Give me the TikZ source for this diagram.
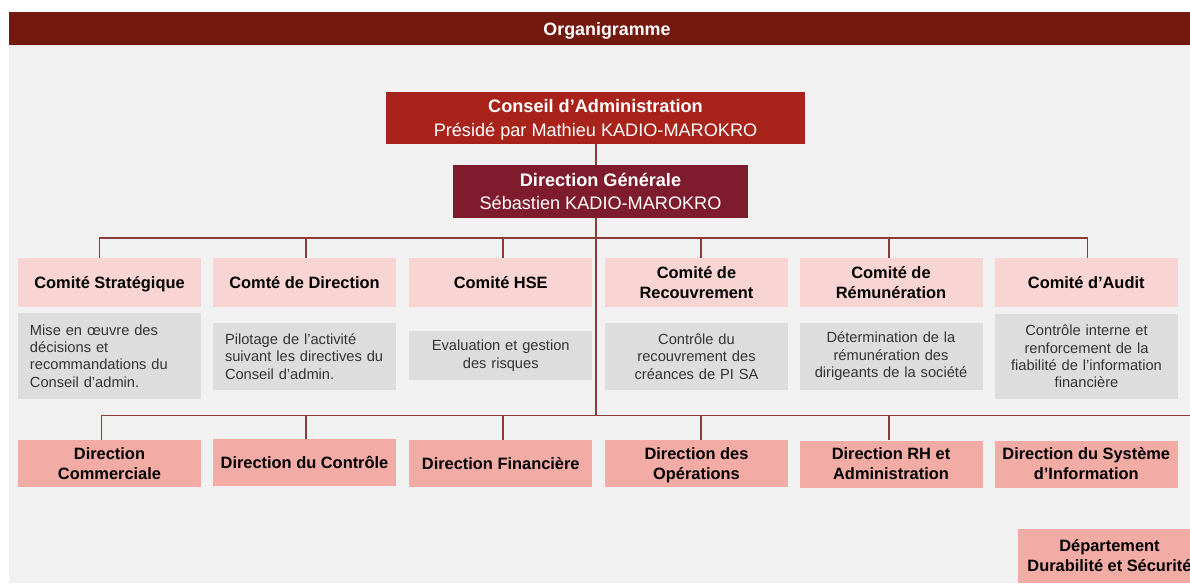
\documentclass[tikz,border=0pt]{standalone}
\usepackage{fontspec}
\setmainfont{Liberation Sans}
\definecolor{titlered}{HTML}{731910}
\definecolor{bggray}{HTML}{F1F1F1}
\definecolor{caRed}{HTML}{A8231A}
\definecolor{dgRed}{HTML}{7E1B2D}
\definecolor{hdrPink}{HTML}{F8D5D2}
\definecolor{descGray}{HTML}{DDDDDD}
\definecolor{dirSalmon}{HTML}{F3ACA5}
\definecolor{lineRed}{HTML}{8B3B3B}
\definecolor{descText}{HTML}{333333}
\tikzset{
  topbox/.style={fill=#1, text=white, inner sep=0pt, align=center,
    font=\fontsize{13.6pt}{17.25pt}\selectfont},
  hdrbox/.style={fill=hdrPink, text=black, inner sep=0pt, align=center,
    minimum width=137.25pt, minimum height=36.75pt,
    font=\fontsize{12.3pt}{15pt}\selectfont\bfseries},
  descbox/.style={fill=descGray, text=descText, inner xsep=9pt, inner ysep=0pt,
    text width=119.25pt, font=\fontsize{11pt}{13.1pt}\selectfont},
  dirbox/.style={fill=dirSalmon, text=black, inner sep=0pt, align=center,
    minimum width=137.25pt, minimum height=35.25pt,
    font=\fontsize{12.3pt}{15pt}\selectfont\bfseries},
  conn/.style={draw=lineRed, line width=1pt}
}
\newcommand{\lowr}[2][-1.6pt]{\raisebox{#1}[\height][\depth]{#2}}
\begin{document}
\begin{tikzpicture}[x=0.75pt,y=-0.75pt]
\useasboundingbox (0,0) rectangle (1190,583);
\clip (0,0) rectangle (1190,583);
\fill[white] (0,0) rectangle (1190,583);
\fill[bggray] (9,45) rectangle (1190,583);
\fill[titlered] (9,12) rectangle (1190,45);
\node[text=white, font=\fontsize{13.4pt}{15pt}\selectfont\bfseries] (title) at (607,30.5) {Organigramme};

% top boxes
\node[topbox=caRed, minimum width=314.25pt, minimum height=39pt] (ca) at (595.5,118)
  {\lowr[-1.5pt]{\begin{tabular}{@{}c@{}}\textbf{Conseil d’Administration}\\[0.9pt]Présidé par Mathieu KADIO-MAROKRO\end{tabular}}};
\node[topbox=dgRed, minimum width=221.25pt, minimum height=39.75pt] (dg) at (600.5,191.5)
  {\textbf{Direction Générale}\\Sébastien KADIO-MAROKRO};

% committee headers
\node[hdrbox] (cs) at (109.5,282.5) {\lowr{Comité Stratégique}};
\node[hdrbox] (cd) at (304.5,282.5) {Comté de Direction};
\node[hdrbox] (ch) at (500.75,282.5) {Comité HSE};
\node[hdrbox] (cr) at (696.5,282.5) {Comité de\\Recouvrement};
\node[hdrbox] (crem) at (891,282.5) {Comité de\\Rémunération};
\node[hdrbox] (caud) at (1086.25,282.5) {Comité d’Audit};

% descriptions
\node[descbox, align=left, minimum height=64.5pt] (d1) at (109.5,356)
  {Mise en œuvre des\\décisions et\\recommandations du\\Conseil d’admin.};
\node[descbox, align=left, minimum height=50.25pt] (d2) at (304.5,356.5)
  {Pilotage de l’activité\\suivant les directives du\\Conseil d’admin.};
\node[descbox, align=center, minimum height=36.75pt] (d3) at (500.75,355.5)
  {Evaluation et gestion\\des risques};
\node[descbox, align=center, minimum height=50.25pt] (d4) at (696.5,356.5)
  {Contrôle du\\recouvrement des\\créances de PI SA};
\node[descbox, align=center, minimum height=50.25pt] (d5) at (891,356.5)
  {Détermination de la\\rémunération des\\dirigeants de la société};
\node[descbox, align=center, minimum height=63.75pt] (d6) at (1086.5,356.5)
  {Contrôle interne et\\renforcement de la\\fiabilité de l’information\\financière};

% directions
\node[dirbox] (dcom) at (109.5,463.5) {Direction\\Commerciale};
\node[dirbox] (dctl) at (304.5,462.5) {Direction du Contrôle};
\node[dirbox] (dfin) at (500.75,463.5) {Direction Financière};
\node[dirbox] (dop) at (696.5,463.5) {\lowr{\begin{tabular}{@{}c@{}}Direction des\\Opérations\end{tabular}}};
\node[dirbox] (drh) at (891,464) {Direction RH et\\Administration};
\node[dirbox] (dsi) at (1086.25,464) {Direction du Système\\d’Information};
\node[dirbox, minimum height=40pt] (dep) at (1109.5,556) {Département\\Durabilité et Sécurité};

% connectors
\coordinate (cbar) at (596,238);
\coordinate (dbar) at (596,415.7);
\coordinate (dend) at (1195,415.7);
\draw[conn] (ca.south -| cbar) -- (dg.north -| cbar);
\draw[conn] (dg.south -| cbar) -- (dbar);
\draw[conn] ([xshift=-7.5pt]cs.north) -- ([xshift=-7.5pt]cs.north |- cbar) -- ([xshift=1pt]caud.north |- cbar) -- ([xshift=1pt]caud.north);
\draw[conn] ([xshift=1.1pt]cd.north) -- ([xshift=1.1pt]cd.north |- cbar);
\draw[conn] ([xshift=1.7pt]ch.north) -- ([xshift=1.7pt]ch.north |- cbar);
\draw[conn] ([xshift=3.4pt]cr.north) -- ([xshift=3.4pt]cr.north |- cbar);
\draw[conn] ([xshift=-1.5pt]crem.north) -- ([xshift=-1.5pt]crem.north |- cbar);
\draw[conn] ([xshift=-6pt]dcom.north) -- ([xshift=-6pt]dcom.north |- dbar) -- (dend);
\draw[conn] ([xshift=1.1pt]dctl.north) -- ([xshift=1.1pt]dctl.north |- dbar);
\draw[conn] ([xshift=1.7pt]dfin.north) -- ([xshift=1.7pt]dfin.north |- dbar);
\draw[conn] ([xshift=3.4pt]dop.north) -- ([xshift=3.4pt]dop.north |- dbar);
\draw[conn] ([xshift=-1.5pt]drh.north) -- ([xshift=-1.5pt]drh.north |- dbar);
\end{tikzpicture}
\end{document}
